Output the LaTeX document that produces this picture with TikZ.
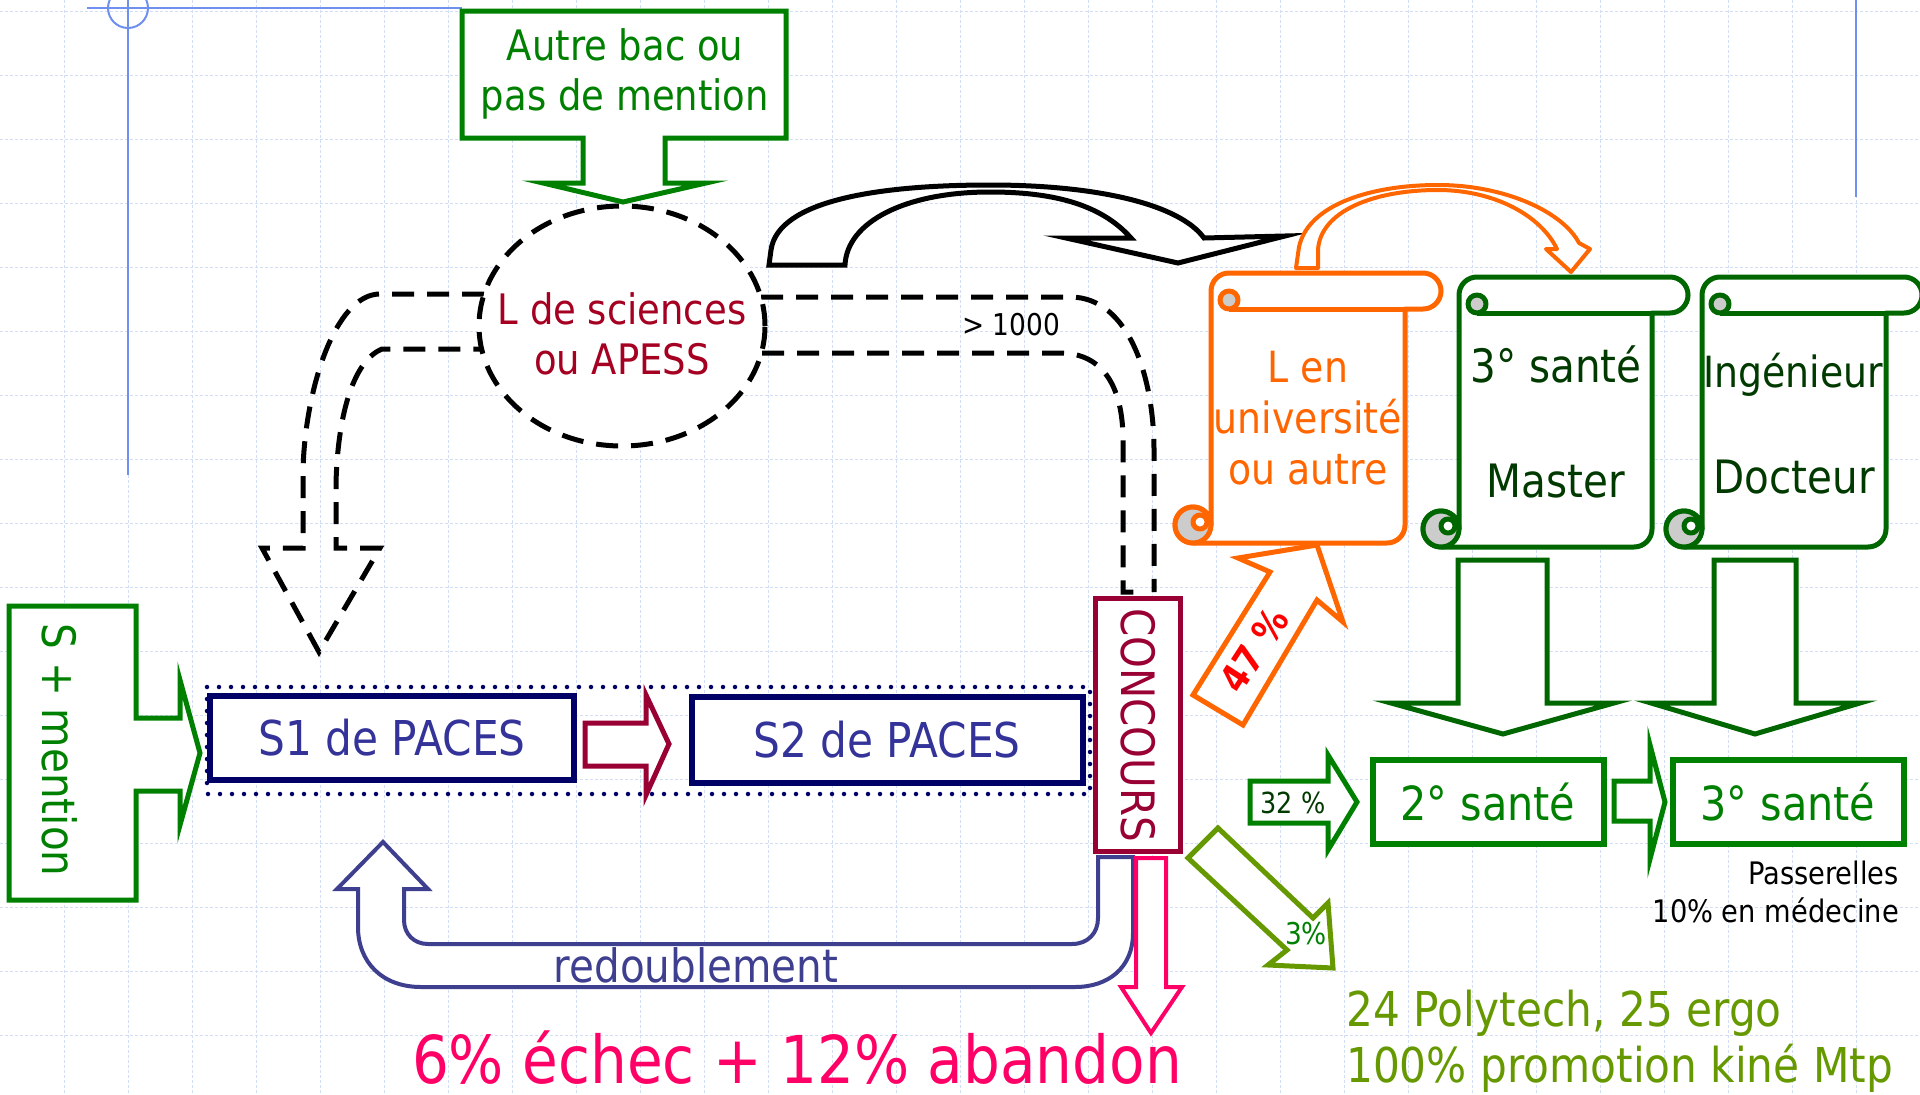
\documentclass[tikz,border=0pt]{standalone}
\usepackage{fontspec}
\setmainfont{DejaVu Sans}[FakeStretch=0.88]
\usetikzlibrary{shapes.geometric}
\definecolor{grn}{HTML}{008000}
\definecolor{dgrn}{HTML}{006600}
\definecolor{tgrn}{HTML}{003A00}
\definecolor{navy}{HTML}{000066}
\definecolor{paces}{HTML}{333399}
\definecolor{dred}{HTML}{990033}
\definecolor{wine}{HTML}{A50021}
\definecolor{orng}{HTML}{FF6600}
\definecolor{pinkc}{HTML}{FF0066}
\definecolor{olivec}{HTML}{669900}
\definecolor{ublue}{HTML}{3F3F8F}
\definecolor{gridc}{HTML}{D2DEF6}
\definecolor{guide}{HTML}{7090F0}

% vertical scroll: left, top, right, bottom, colour
\newcommand{\scrollpaper}[5]{%
  \pgfmathsetmacro{\sclA}{#1+18}\pgfmathsetmacro{\sclB}{#1+36}\pgfmathsetmacro{\sclC}{#1+54}%
  \pgfmathsetmacro{\sclD}{#3-36}\pgfmathsetmacro{\sclE}{#3-18}\pgfmathsetmacro{\sclF}{#3-54}%
  \pgfmathsetmacro{\sclG}{#2+27}\pgfmathsetmacro{\sclH}{#2+36}\pgfmathsetmacro{\sclI}{#4-18}%
  \draw[scrollline, draw=#5, fill=white] (\sclA,#4) -- (\sclF,#4) arc[start angle=90, end angle=0, radius=18]
    -- (\sclD,\sclH) -- (\sclE,\sclH) arc[start angle=90, end angle=-90, radius=18]
    -- (\sclC,#2) arc[start angle=-90, end angle=-180, radius=18]
    -- (\sclB,\sclI) arc[start angle=0, end angle=-270, radius=18] -- cycle;
  \draw[scrollline, draw=#5] (\sclC,\sclH) -- (\sclD,\sclH);
  \filldraw[scrollline, draw=#5, fill=gray!40] (\sclC,\sclG) circle[radius=9];
  \filldraw[scrollline, draw=#5, fill=gray!40] (\sclA,\sclI) circle[radius=18];
  \filldraw[scrollline, draw=#5, fill=white] (\sclA+7,\sclI-3) circle[radius=7];
}

\begin{document}
\begin{tikzpicture}[x=1pt, y=-1pt]
\tikzstyle{gridline}=[gridc, line width=1pt, dash pattern=on 3pt off 2pt]
\tikzstyle{dashline}=[black, line width=5pt, dash pattern=on 22pt off 13pt]
\tikzstyle{scrollline}=[line width=5pt, line join=round]
\tikzstyle{greenblock}=[draw=grn, line width=5pt, fill=white]
\tikzstyle{bigblock}=[draw=dgrn, line width=5pt, fill=white]
\tikzstyle{txt}=[inner sep=0pt]
\tikzstyle{pacesbox}=[draw=navy, line width=6pt, fill=white, text=paces, inner sep=0pt,
  font={\fontsize{48}{57}\selectfont}]
\tikzstyle{santebox}=[draw=grn, line width=6pt, fill=white, text=grn, inner sep=0pt,
  minimum width=231pt, minimum height=84pt, font={\fontsize{47}{56}\selectfont}]

\useasboundingbox (0,0) rectangle (1920,1095);
\fill[white] (0,0) rectangle (1920,1095);
\foreach \gx in {64,128,...,1856} \draw[gridline] (\gx,0) -- (\gx,1095);
\foreach \gy in {11,75,...,1035} \draw[gridline] (0,\gy) -- (1920,\gy);
\draw[guide, line width=2pt] (87,8) -- (462,8) (128,0) -- (128,475) (1856,0) -- (1856,197);
\draw[guide, line width=2pt] (128,8) circle[radius=20];

% entrees
\draw[greenblock] (462,11) -- (786,11) -- (786,138) -- (665,138) -- (665,183) -- (706,183)
  -- (623,202) -- (543,183) -- (583,183) -- (583,138) -- (462,138) -- cycle;
\node[txt, text=grn, align=center, font={\fontsize{42}{50}\selectfont}] (autre) at (625,74) {Autre bac ou\\pas de mention};
\draw[greenblock] (9,606) -- (136,606) -- (136,718) -- (180,718) -- (180,680) -- (200,753)
  -- (180,825) -- (180,791) -- (136,791) -- (136,900) -- (9,900) -- cycle;
\node[txt, text=grn, rotate=-90, font={\fontsize{46}{55}\selectfont}] (smention) at (60,750) {S + mention};

% licence de sciences
\draw[dashline] (484,294) -- (380,294) .. controls (335,294) and (305,390) .. (303,470) -- (303,548)
  -- (262,548) -- (319,652) -- (380,548) -- (336,548) -- (336,483)
  .. controls (338,410) and (355,360) .. (382,349) -- (482,349);
\draw[dashline] (761,297) -- (1070,297) .. controls (1130,297) and (1154,380) .. (1154,450) -- (1154,592);
\draw[dashline] (762,353) -- (1060,353) .. controls (1105,353) and (1123,390) .. (1123,440) -- (1123,592) -- (1135,592);
\node[ellipse, draw=black, fill=white, line width=5pt, dash pattern=on 22pt off 13pt,
  minimum width=286pt, minimum height=240pt] (sci) at (622,326) {};
\node[txt, text=wine, align=center, font={\fontsize{42}{50}\selectfont}] (scitxt) at (622,334) {L de sciences\\ou APESS};
\node[txt, font={\fontsize{30}{36}\selectfont}] (mille) at (1011,325) {> 1000};
\draw[black, line width=5pt, fill=white] (769,265) -- (771,250) .. controls (778,200) and (880,185) .. (990,185)
  .. controls (1100,185) and (1180,205) .. (1204,238) -- (1285,236) -- (1178,263) -- (1066,238) -- (1131,238)
  .. controls (1100,203) and (1050,192) .. (990,192) .. controls (905,192) and (847,222) .. (845,265) -- cycle;

% PACES
\draw[navy, line width=4.5pt, line cap=round, dash pattern=on 0pt off 12pt] (207,687) rectangle (1090,794);
\node[pacesbox, minimum width=364pt, minimum height=84pt] (s1) at (392,738) {S1 de PACES};
\node[pacesbox, minimum width=391pt, minimum height=86pt] (s2) at (887,740) {S2 de PACES};
\draw[draw=dred, line width=5pt, fill=white] (585,723) -- (646,723) -- (646,695) -- (669,744)
  -- (646,795) -- (646,766) -- (585,766) -- cycle;
\node[draw=dred, line width=5pt, fill=white, text=dred, rotate=-90, inner sep=0pt,
  minimum width=253pt, minimum height=85pt, font={\fontsize{46}{55}\selectfont}] (conc) at (1138,725) {CONCOURS};

% sorties du concours
\draw[draw=ublue, line width=4pt, fill=white] (1098,857) -- (1133,857) -- (1133,933)
  .. controls (1133,968) and (1108,987) .. (1075,987) -- (421,987) .. controls (382,987) and (358,962) .. (358,927)
  -- (358,889) -- (337,889) -- (383,842) -- (428,889) -- (404,889) -- (404,920)
  .. controls (404,934) and (414,944) .. (428,944) -- (1072,944) .. controls (1088,944) and (1098,933) .. (1098,918) -- cycle;
\node[txt, text=ublue, anchor=base, font={\fontsize{46}{55}\selectfont}] (redoub) at (696,982) {redoublement};
\draw[draw=pinkc, line width=4pt, fill=white] (1136,858) -- (1166,858) -- (1166,987) -- (1182,987)
  -- (1151,1033) -- (1121,987) -- (1136,987) -- cycle;
\node[txt, text=pinkc, anchor=base, font={\fontsize{66}{79}\selectfont}] (echec) at (797,1083) {6\% échec + 12\% abandon};

\draw[draw=orng, line width=5pt, fill=white] (1193,695) -- (1270,572) -- (1238,558) -- (1317,545)
  -- (1343,622) -- (1317,600) -- (1243,725) -- cycle;
\node[txt, text=red, rotate=57, font={\fontsize{38}{45}\selectfont\bfseries}] (p47) at (1254,650) {47 \%};
\draw[greenblock] (1250,781) -- (1328,781) -- (1328,755) -- (1357,802) -- (1328,850) -- (1328,823) -- (1250,823) -- cycle;
\node[txt, text=tgrn, font={\fontsize{29}{35}\selectfont}] (p32) at (1293,803) {32 \%};
\draw[draw=olivec, line width=5pt, fill=white] (1188,858) -- (1218,828) -- (1313,918) -- (1328,903)
  -- (1333,968) -- (1268,965) -- (1287,950) -- cycle;
\node[txt, text=grn, font={\fontsize{30}{36}\selectfont}] (p3) at (1306,934) {3\%};

% diplomes
\draw[orng, line width=4pt, fill=white, line join=round] (1296,268) -- (1299,247)
  .. controls (1308,205) and (1370,185) .. (1438,185) .. controls (1505,185) and (1563,212) .. (1579,243)
  -- (1590,249) -- (1571,272) -- (1546,249) -- (1557,249)
  .. controls (1540,214) and (1492,190) .. (1438,190) .. controls (1372,190) and (1320,212) .. (1318,250) -- (1318,268) -- cycle;
\scrollpaper{1175}{273}{1441}{543}{orng}
\scrollpaper{1423}{277}{1688}{547}{dgrn}
\scrollpaper{1666}{277}{1922}{547}{dgrn}
\node[txt, text=orng, align=center, font={\fontsize{43}{51}\selectfont}] (luniv) at (1308,418) {L en\\université\\ou autre};
\node[txt, text=tgrn, anchor=base, font={\fontsize{46}{55}\selectfont}] (trois) at (1556,382) {3° santé};
\node[txt, text=tgrn, anchor=base, font={\fontsize{46}{55}\selectfont}] (master) at (1556,497) {Master};
\node[txt, text=tgrn, anchor=base, font={\fontsize{43}{52}\selectfont}] (inge) at (1793,387) {Ingénieur};
\node[txt, text=tgrn, anchor=base, font={\fontsize{46}{55}\selectfont}] (docteur) at (1794,493) {Docteur};

\draw[bigblock] (1458,560) -- (1547,560) -- (1547,703) -- (1614,703) -- (1503,734) -- (1391,703) -- (1458,703) -- cycle;
\draw[bigblock] (1714,560) -- (1796,560) -- (1796,703) -- (1860,703) -- (1755,734) -- (1651,703) -- (1714,703) -- cycle;
\node[santebox] (sante2) at (1488,802) {2° santé};
\node[santebox] (sante3) at (1788,802) {3° santé};
\draw[greenblock] (1614,781) -- (1650,781) -- (1650,745) -- (1665,802) -- (1650,859) -- (1650,821) -- (1614,821) -- cycle;

\node[txt, anchor=base east, font={\fontsize{31}{37}\selectfont}] (passer) at (1899,884) {Passerelles};
\node[txt, anchor=base east, font={\fontsize{31}{37}\selectfont}] (medec) at (1899,922) {10\% en médecine};
\node[txt, text=olivec, anchor=base west, font={\fontsize{48}{56}\selectfont}] (polyt) at (1346,1026) {24 Polytech, 25 ergo};
\node[txt, text=olivec, anchor=base west, font={\fontsize{48}{56}\selectfont}] (kine) at (1346,1082) {100\% promotion kiné Mtp};
\end{tikzpicture}
\end{document}
